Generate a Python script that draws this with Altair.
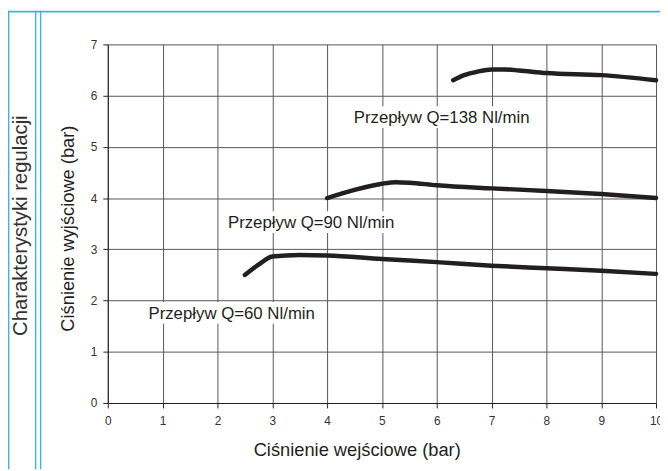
import altair as alt
import pandas as pd

# ---- data ----
p_in_60 = [2.5, 2.75, 3.0, 3.5, 4.0, 5.0, 6.0, 7.0, 8.0, 9.0, 10.0]
p_out_60 = [2.5, 2.70, 2.86, 2.89, 2.88, 2.81, 2.75, 2.68, 2.63, 2.58, 2.52]

p_in_90 = [4.0, 4.5, 5.0, 5.25, 5.5, 6.0, 7.0, 8.0, 9.0, 10.0]
p_out_90 = [4.0, 4.16, 4.28, 4.31, 4.30, 4.25, 4.19, 4.14, 4.08, 4.0]

p_in_138 = [6.3, 6.5, 6.75, 7.0, 7.25, 7.5, 8.0, 9.0, 10.0]
p_out_138 = [6.3, 6.40, 6.47, 6.51, 6.51, 6.49, 6.44, 6.40, 6.30]

series_names = ["Q=60", "Q=90", "Q=138"]

label_texts = ["Przepływ Q=138 Nl/min", "Przepływ Q=90 Nl/min", "Przepływ Q=60 Nl/min"]
label_x = [6.09, 3.71, 2.26]
label_y = [5.46, 3.41, 1.64]

x_ticks = list(range(0, 11))
y_ticks = list(range(0, 8))

# ---- tables ----
rows = []
for name, xs, ys in zip(series_names, [p_in_60, p_in_90, p_in_138], [p_out_60, p_out_90, p_out_138]):
    for i, (a, b) in enumerate(zip(xs, ys)):
        rows.append({"series": name, "order": i, "pin": a, "pout": b})
curves = pd.DataFrame(rows)

labels = pd.DataFrame({"text": label_texts, "lx": label_x, "ly": label_y})

INK = "#231f20"
BLUE = "#3cb4e6"
FONT = "Liberation Sans"

xscale = alt.Scale(domain=[0, 10], nice=False, zero=False)
yscale = alt.Scale(domain=[0, 7], nice=False, zero=False)

lines = alt.Chart(curves).mark_line(
    interpolate="monotone", color=INK, strokeWidth=4.5, strokeCap="round", strokeJoin="round"
).encode(
    x=alt.X("pin:Q", scale=xscale, axis=alt.Axis(
        values=x_ticks, format="d", title="Ciśnienie wejściowe (bar)",
        titleX=252, titleY=53, titleBaseline="alphabetic", titleAlign="center",
        titleFontSize=18.5, titleFontWeight="normal", titleFont=FONT, titleColor=INK,
        labelFontSize=12, labelFont=FONT, labelColor="#333333", labelPadding=8,
        tickSize=5, tickColor=INK, domainColor=INK, gridColor="#555555", gridWidth=1,
        labelFlush=False, labelOverlap=False,
    )),
    y=alt.Y("pout:Q", scale=yscale, axis=alt.Axis(
        values=y_ticks, format="d", title="Ciśnienie wyjściowe (bar)",
        titleX=-35, titleY=186, titleAngle=270, titleBaseline="alphabetic", titleAlign="center",
        titleFontSize=18.5, titleFontWeight="normal", titleFont=FONT, titleColor=INK,
        labelFontSize=12, labelFont=FONT, labelColor="#333333", labelPadding=6,
        tickSize=5, tickColor=INK, domainColor=INK, gridColor="#555555", gridWidth=1,
        labelFlush=False, labelOverlap=False,
    )),
    detail="series:N",
    order="order:Q",
)

boxes = alt.Chart(labels).transform_calculate(
    by="datum.ly + 0.12"
).mark_rect(color="white", width=178, height=22).encode(
    x=alt.X("lx:Q", scale=xscale),
    y=alt.Y("by:Q", scale=yscale),
)

texts = alt.Chart(labels).mark_text(
    font=FONT, fontSize=17, color=INK, align="center", baseline="alphabetic"
).encode(
    x=alt.X("lx:Q", scale=xscale),
    y=alt.Y("ly:Q", scale=yscale),
    text="text:N",
)

one = pd.DataFrame({"k": [0]})

hline = alt.Chart(one).mark_rule(color=BLUE, strokeWidth=1.6).encode(
    x=alt.value(-101), x2=alt.value(560), y=alt.value(-33.2)
)
vlines = [
    alt.Chart(one).mark_rule(color=BLUE, strokeWidth=1.4).encode(
        x=alt.value(xv), y=alt.value(-34), y2=alt.value(430)
    )
    for xv in [-100.3, -73, -68]
]

side_title = alt.Chart(one).mark_text(
    text="Charakterystyki regulacji", font=FONT, fontSize=20.5, color="#333333",
    angle=270, align="center", baseline="alphabetic"
).encode(x=alt.value(-82), y=alt.value(183.5))

chart = alt.layer(
    lines, boxes, texts, hline, *vlines, side_title
).resolve_scale(x="shared", y="shared").properties(
    width=555, height=363,
    autosize=alt.AutoSizeParams(type="none"),
    padding={"left": 101, "top": 34, "right": 4, "bottom": 66},
    background="white",
).configure_view(stroke=None)

chart.save("out.html", embed_options={"renderer": "svg", "actions": False})
